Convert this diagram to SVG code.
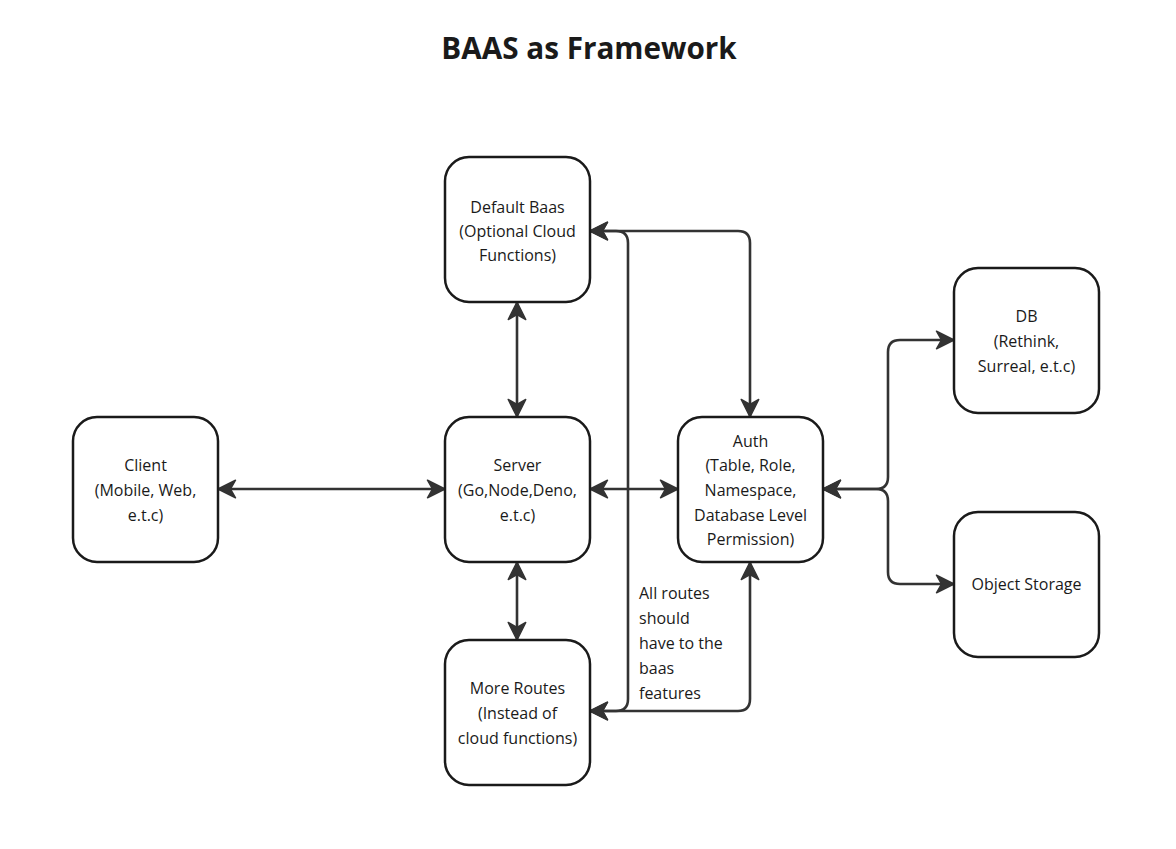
<svg xmlns="http://www.w3.org/2000/svg" width="1176" height="849" viewBox="0 0 1176 849">
<defs>
<style>
.node rect{fill:#fff;stroke:#1a1a1a;stroke-width:2.5}
.node text{font-family:"Open Sans","Noto Sans",sans-serif;font-size:16px;fill:#1a1a1a;text-anchor:middle}
.conn path{fill:none;stroke:#333;stroke-width:2.6;stroke-linejoin:round;marker-start:url(#ah);marker-end:url(#ah)}
.lbl{font-family:"Open Sans","Noto Sans",sans-serif;font-size:16px;fill:#1a1a1a}
.title{font-family:"Open Sans","Noto Sans",sans-serif;font-size:29.7px;font-weight:bold;fill:#1a1a1a;text-anchor:middle}
</style>
<marker id="ah" markerUnits="userSpaceOnUse" markerWidth="20" markerHeight="20" viewBox="0 0 16 16" refX="15" refY="8" orient="auto-start-reverse">
<path d="M1,1 L15,8 L1,15 L5,8 Z" fill="#333" stroke="#333" stroke-width="1.2" stroke-linejoin="round"/>
</marker>
</defs>
<rect width="1176" height="849" fill="#fff"/>
<text class="title" x="589" y="59">BAAS as Framework</text>

<g class="conn" id="connectors">
<path d="M590,231 H616 Q628,231 628,243 V699 Q628,711 616,711 H590"/>
<path d="M590,231 H738 Q750,231 750,243 V417"/>
<path d="M590,711 H738 Q750,711 750,699 V562"/>
<path d="M517,302 V417"/>
<path d="M517,562 V640"/>
<path d="M218,489 H445"/>
<path d="M590,489 H678"/>
<path d="M823,489 H876 Q888,489 888,477 V352 Q888,340 900,340 H954"/>
<path d="M823,489 H876 Q888,489 888,501 V572 Q888,584 900,584 H954"/>
</g>

<g class="node" id="default-baas">
<rect x="445" y="157" width="145" height="145" rx="24"/>
<text x="517.5" y="213">Default Baas</text>
<text x="517.5" y="237">(Optional Cloud</text>
<text x="517.5" y="261">Functions)</text>
</g>
<g class="node" id="client">
<rect x="73" y="417" width="145" height="145" rx="24"/>
<text x="145.5" y="471">Client</text>
<text x="145.5" y="496">(Mobile, Web,</text>
<text x="145.5" y="521">e.t.c)</text>
</g>
<g class="node" id="server">
<rect x="445" y="417" width="145" height="145" rx="24"/>
<text x="517.5" y="471">Server</text>
<text x="517.5" y="496">(Go,Node,Deno,</text>
<text x="517.5" y="521">e.t.c)</text>
</g>
<g class="node" id="auth">
<rect x="678" y="417" width="145" height="145" rx="24"/>
<text x="750.5" y="447">Auth</text>
<text x="750.5" y="471">(Table, Role,</text>
<text x="750.5" y="496">Namespace,</text>
<text x="750.5" y="521">Database Level</text>
<text x="750.5" y="545">Permission)</text>
</g>
<g class="node" id="more-routes">
<rect x="445" y="640" width="145" height="145" rx="24"/>
<text x="517.5" y="694">More Routes</text>
<text x="517.5" y="719">(Instead of</text>
<text x="517.5" y="744">cloud functions)</text>
</g>
<g class="node" id="db">
<rect x="954" y="268" width="145" height="145" rx="24"/>
<text x="1026.5" y="322">DB</text>
<text x="1026.5" y="347">(Rethink,</text>
<text x="1026.5" y="372">Surreal, e.t.c)</text>
</g>
<g class="node" id="object-storage">
<rect x="954" y="512" width="145" height="145" rx="24"/>
<text x="1026.5" y="590">Object Storage</text>
</g>

<g id="label">
<text class="lbl" x="639" y="599">All routes</text>
<text class="lbl" x="639" y="624">should</text>
<text class="lbl" x="639" y="649">have to the</text>
<text class="lbl" x="639" y="674">baas</text>
<text class="lbl" x="639" y="699">features</text>
</g>
</svg>
